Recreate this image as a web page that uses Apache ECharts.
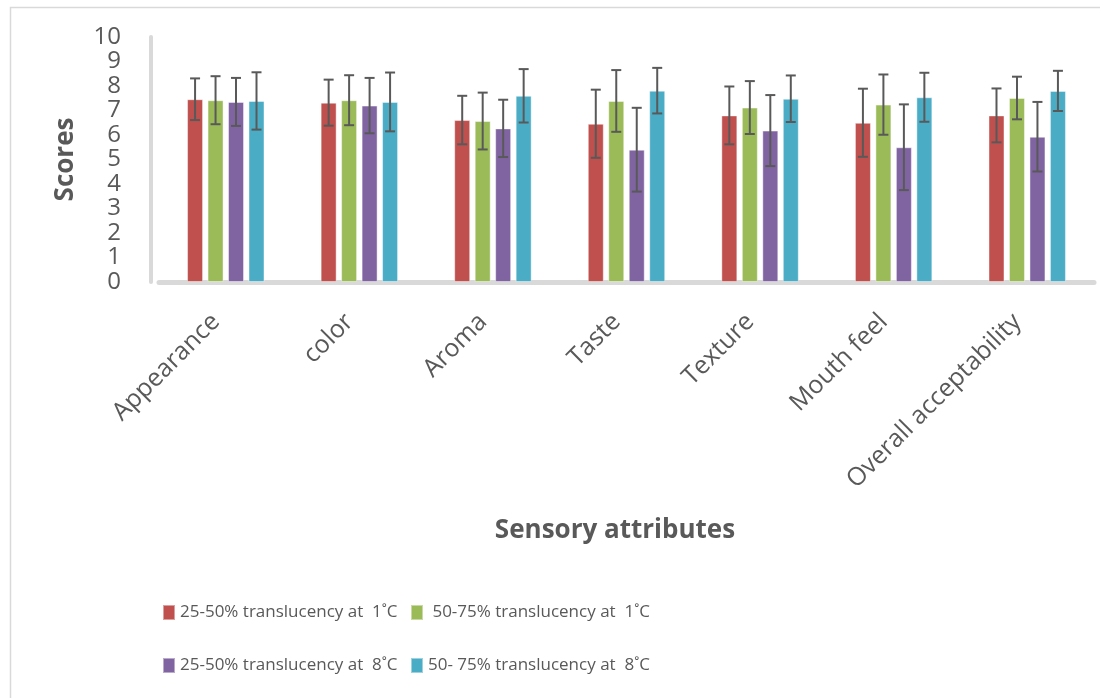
<!DOCTYPE html>
<html>
<head>
<meta charset="utf-8">
<script src="https://cdn.jsdelivr.net/npm/echarts@6/dist/echarts.min.js"></script>
<style>
  html, body { margin: 0; padding: 0; background: #fff; }
  #chart { width: 1100px; height: 698px; }
</style>
</head>
<body>
<div id="chart"></div>
<script>
// sensory scores
const categories = ['Appearance', 'color', 'Aroma', 'Taste', 'Texture', 'Mouth feel', 'Overall acceptability'];
const seriesNames = [
    '25-50% translucency at  1˚C',
    ' 50-75% translucency at  1˚C',
    '25-50% translucency at  8˚C',
    '50- 75% translucency at  8˚C'
];
const colors = ['#c0504d', '#9bbb59', '#8064a2', '#4bacc6'];

const mean1C2550 = [7.46, 7.32, 6.61, 6.46, 6.80, 6.50, 6.80];
const mean1C5075 = [7.42, 7.42, 6.57, 7.39, 7.12, 7.24, 7.51];
const mean8C2550 = [7.35, 7.20, 6.27, 5.40, 6.18, 5.50, 5.93];
const mean8C5075 = [7.39, 7.35, 7.60, 7.81, 7.48, 7.54, 7.80];

const sd1C2550 = [0.85, 0.94, 0.99, 1.39, 1.18, 1.39, 1.10];
const sd1C5075 = [0.98, 1.02, 1.16, 1.26, 1.08, 1.23, 0.87];
const sd8C2550 = [0.98, 1.13, 1.17, 1.71, 1.45, 1.75, 1.42];
const sd8C5075 = [1.17, 1.20, 1.09, 0.93, 0.95, 1.00, 0.82];

const yTicks = [0, 1, 2, 3, 4, 5, 6, 7, 8, 9, 10];

const means = [mean1C2550, mean1C5075, mean8C2550, mean8C5075];
const sds = [sd1C2550, sd1C5075, sd8C2550, sd8C5075];

const barWidth = 16;
const barGapRatio = 0.28;
const step = barWidth * (1 + barGapRatio);

const chart = echarts.init(document.getElementById('chart'));

const barSeries = means.map((m, i) => ({
    name: seriesNames[i],
    type: 'bar',
    data: m,
    barWidth: barWidth,
    barGap: (barGapRatio * 100) + '%',
    itemStyle: {
        color: colors[i],
        borderColor: 'rgba(255,255,255,0.45)',
        borderWidth: 1
    }
}));

// error bars drawn next to each bar of the group
const errorSeries = means.map((m, i) => ({
    name: seriesNames[i],
    type: 'custom',
    z: 5,
    silent: true,
    data: m.map((v, k) => [k, v - sds[i][k], v + sds[i][k]]),
    encode: {x: 0, y: [1, 2]},
    renderItem: function (params, api) {
        const k = api.value(0);
        const lo = api.coord([k, api.value(1)]);
        const hi = api.coord([k, api.value(2)]);
        const x = lo[0] + (i - 1.5) * step;
        const cap = 5;
        const style = {stroke: '#595959', lineWidth: 2};
        return {
            type: 'group',
            children: [
                {type: 'line', shape: {x1: x, y1: lo[1], x2: x, y2: hi[1]}, style: style},
                {type: 'line', shape: {x1: x - cap, y1: hi[1], x2: x + cap, y2: hi[1]}, style: style},
                {type: 'line', shape: {x1: x - cap, y1: lo[1], x2: x + cap, y2: lo[1]}, style: style}
            ]
        };
    }
}));

const legendFont = {
    fontFamily: "'Open Sans', sans-serif",
    fontSize: 17,
    color: '#595959'
};
const legendPos = [[162, 604], [410, 604], [162, 657], [410, 657]];
const legends = seriesNames.map((n, i) => ({
    data: [n],
    left: legendPos[i][0],
    top: legendPos[i][1],
    padding: 0,
    itemWidth: 12,
    itemHeight: 15,
    itemGap: 5,
    icon: 'rect',
    textStyle: legendFont,
    selectedMode: false
}));

const option = {
    animation: false,
    textStyle: {fontFamily: "'Open Sans', sans-serif"},
    graphic: [{
        type: 'rect',
        shape: {x: 10.5, y: 7.5, width: 1200, height: 800},
        style: {fill: 'none', stroke: '#d9d9d9', lineWidth: 1.5},
        silent: true
    }],
    legend: legends,
    grid: {left: 159, right: 6, top: 37, bottom: 416},
    xAxis: {
        type: 'category',
        data: categories,
        offset: 3,
        axisLine: {lineStyle: {color: '#d9d9d9', width: 5}},
        axisTick: {show: false},
        axisLabel: {
            interval: 0,
            rotate: 45,
            margin: 23,
            padding: [0, 14, 0, 0],
            fontSize: 25,
            color: '#595959',
            fontFamily: "'Open Sans', sans-serif"
        },
        name: 'Sensory attributes',
        nameLocation: 'middle',
        nameGap: 233,
        nameTextStyle: {
            fontSize: 26,
            fontWeight: 'bold',
            color: '#595959',
            fontFamily: "'Open Sans', sans-serif",
            padding: [0, 23, 0, 0]
        }
    },
    yAxis: {
        type: 'value',
        min: yTicks[0],
        max: yTicks[yTicks.length - 1],
        interval: 1,
        offset: 8,
        splitLine: {show: false},
        axisLine: {show: true, lineStyle: {color: '#d9d9d9', width: 4}},
        axisTick: {show: false},
        axisLabel: {
            margin: 30,
            fontSize: 24,
            showMinLabel: true,
            showMaxLabel: true,
            color: '#595959',
            fontFamily: "'Open Sans', sans-serif"
        },
        name: 'Scores',
        nameLocation: 'middle',
        nameRotate: 90,
        nameGap: 72,
        nameTextStyle: {
            fontSize: 26,
            fontWeight: 'bold',
            color: '#595959',
            fontFamily: "'Open Sans', sans-serif"
        }
    },
    series: barSeries.concat(errorSeries)
};

chart.setOption(option);
</script>
</body>
</html>
